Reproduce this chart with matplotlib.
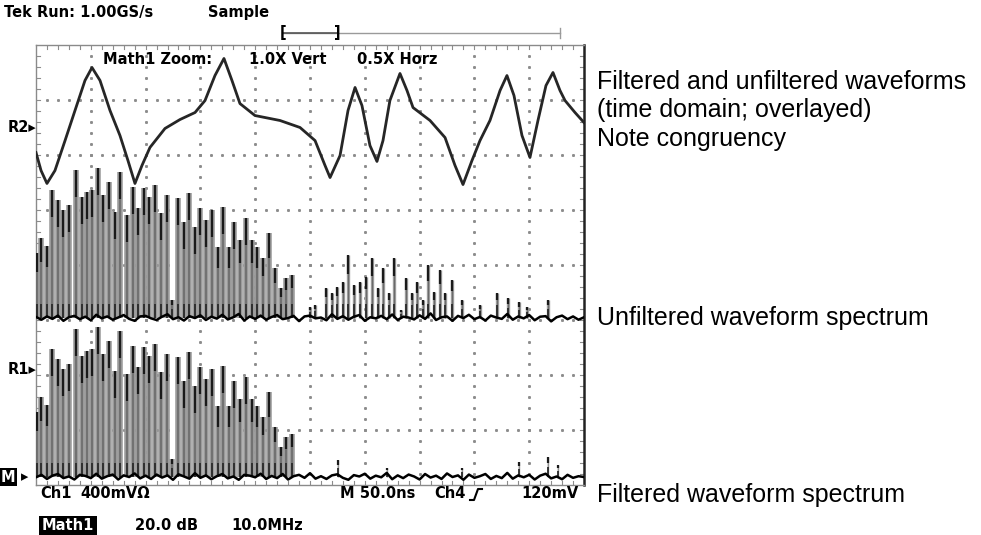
import matplotlib
matplotlib.use('Agg')
import matplotlib.pyplot as plt
import numpy as np
from matplotlib.lines import Line2D

W, H = 981, 535

# time domain trace (filtered and unfiltered overlay), ns / mV
t_ns = [0, 4.6, 10.0, 17.3, 26.5, 35.6, 44.7, 51.1, 58.4, 67.5, 76.6, 83.9, 90.3,
        96.7, 104.0, 117.7, 131.4, 145.1, 154.2, 163.3, 171.5, 178.8, 186.1, 199.8,
        222.6, 240.9, 254.6, 263.7, 268.3, 277.4, 284.7, 291.1, 297.4, 304.7, 311.1,
        316.6, 322.9, 332.1, 338.5, 344.0, 359.5, 373.2, 382.3, 389.6, 397.8, 405.1,
        414.2, 423.4, 429.7, 436.1, 443.4, 450.7, 458.0, 465.3, 471.7, 478.1, 482.7,
        491.8, 500.0]
v_mv = [-182, -313, -407, -313, -95, 124, 342, 436, 342, 124, -58, -240, -407,
        -276, -145, -7, 58, 109, 196, 378, 502, 342, 174, 87,
        51, 0, -95, -276, -364, -204, 124, 291, 160, -131, -247,
        -95, 196, 393, 269, 145, 51, -73, -276, -415, -240, -95,
        51, 269, 378, 233, -58, -218, 51, 305, 400, 269, 196,
        109, 36]

# harmonics below the filter cutoff (MHz, dB above floor) - same in both spectra
harm_mhz = [0.2, 0.9, 2.0, 2.9, 4.0, 4.9, 6.0, 7.3, 8.4, 9.3, 10.2, 11.3, 12.2,
            13.3, 14.4, 15.3, 16.6, 17.7, 18.6, 19.7, 20.6, 21.7, 22.8, 23.9,
            24.8, 25.9, 27.0, 27.9, 29.0, 29.9, 31.0, 32.1, 33.2, 34.1, 35.2,
            36.1, 37.2, 38.3, 39.4, 40.3, 41.4, 42.5, 43.6, 44.7, 45.6, 46.7]
harm_db = [23.6, 29.1, 26.2, 46.5, 42.9, 39.3, 41.1, 53.8, 44.0, 45.8, 46.5, 54.5,
           44.7, 49.5, 38.5, 53.1, 37.5, 47.6, 40.0, 47.3, 44.0, 48.4, 38.2, 44.7,
           6.5, 43.6, 34.9, 45.5, 33.1, 40.0, 35.6, 39.3, 25.8, 40.4, 25.8,
           34.9, 28.4, 36.4, 28.4, 25.8, 21.8, 30.9, 18.2, 10.9, 14.5, 15.6]

# unfiltered only: content above cutoff
hi_mhz = [50.0, 50.9, 52.9, 54.0, 54.9, 56.0, 56.9, 58.0, 59.1, 60.2, 61.3, 62.4,
          63.3, 64.4, 65.3, 66.6, 67.5, 68.6, 69.5, 70.6, 71.5, 72.6, 73.7, 74.6,
          75.9, 77.7, 81.0, 84.1, 86.1, 88.1, 89.6, 93.4]
hi_db = [4.0, 4.7, 10.9, 9.1, 11.3, 13.1, 22.9, 12.0, 13.1, 14.9, 21.8, 10.9,
         18.2, 9.1, 21.8, 2.9, 14.5, 9.1, 13.1, 6.5, 19.3, 9.5, 17.5, 9.1,
         13.8, 6.5, 4.7, 9.1, 7.3, 5.8, 4.0, 6.5]

# filtered: small residual spurs above cutoff
spur_mhz = [55.1, 64.1, 77.7, 88.1, 93.4, 95.3]
spur_db = [6.2, 3.3, 3.3, 5.5, 7.3, 4.4]

# noise floors, dB, one sample per MHz
noise_unf = [0.3, -0.7, 0.5, -0.4, 0.8, -1.1, 0.2, 0.7, -0.5, 0.4, -0.9, 1.1, -0.2,
             0.5, -0.7, 0.1, 1.0, -0.4, -1.1, 0.5, 0.7, -0.2, -0.8, 0.4, 1.3, -0.5,
             0.2, -1.0, 0.6, -0.1, 0.9, -0.8, 0.4, -0.3, 1.1, -0.6, 0.2, 1.4, -1.0,
             0.5, -0.4, 0.8, -0.7, 0.3, 1.0, -0.5, -0.1, 0.7, -1.2, 0.5, 0.8, -0.2,
             0.1, -0.9, 1.3, -0.4, 0.6, -0.7, 0.4, 1.0, -1.1, 0.2, -0.2, 0.7, -0.5,
             1.2, -0.8, 0.4, 0.1, -0.6, 0.9, -0.4, 1.6, -0.8, 0.2, 0.5, -1.1, 0.7,
             -0.1, 1.1, -0.5, 0.3, -1.0, 0.8, 0.1, -0.4, 1.4, -0.7, 0.5, -0.2, 1.0,
             -0.9, 0.4, 0.6, -1.3, 0.2, 0.8, -0.5, 0.5, -0.7, 0.2]
noise_filt = [-0.2, 0.7, -0.8, 0.4, 1.0, -0.5, 0.1, -1.0, 0.7, 0.3, -0.5, 1.1, -0.7,
              0.2, 0.8, -1.0, 0.5, -0.1, 1.2, -0.6, 0.4, -0.8, 0.8, -0.3, 0.5, -1.1,
              0.9, 0.1, -0.7, 1.3, -0.4, 0.5, -0.9, 0.2, 1.0, -0.6, 0.1, -1.1, 0.7,
              0.4, -0.2, 1.1, -0.8, 0.3, -0.5, 1.0, -1.0, 0.2, 0.7, -0.4, 1.3, -0.7,
              0.2, -0.8, 0.5, 0.9, -0.4, -1.1, 0.6, 0.1, 1.1, -0.7, 0.4, -0.2, 1.4,
              -0.9, 0.5, -0.5, 0.8, 0.1, -1.0, 1.0, -0.3, 0.4, -0.8, 1.2, -0.1, 0.5,
              -1.1, 0.8, -0.4, 0.2, 1.0, -0.8, 0.3, -0.5, 1.4, -0.7, 0.5, -0.2, 0.7,
              -1.0, 0.4, 1.1, -0.6, 0.1, -0.9, 0.7, -0.4, 0.2, -0.1]

NS_DIV = 50.0
MV_DIV = 400.0
MHZ_DIV = 10.0
DB_DIV = 20.0
R2_REF = 6.5
UNF_BASE = 3.04
FILT_BASE = 0.15


def fx(px):
    return px / W


def fy(py):
    return 1 - py / H


def spectrum(ax, base, f, db, wide=4.0):
    x = np.array(f) / MHZ_DIV
    top = base + np.array(db) / DB_DIV
    ax.vlines(x, base, top, color='#9a9a9a', lw=wide, zorder=2)
    ax.vlines(x, base, top, color='#6a6a6a', lw=wide * 0.3, zorder=3)
    tip = np.minimum((top - base) * 0.3, 0.5)
    ax.vlines(x, top - tip, top, color='#1a1a1a', lw=1.6, zorder=4)
    foot = np.minimum((top - base) * 0.5, 0.25)
    ax.vlines(x, base, base + foot, color='#2a2a2a', lw=1.3, zorder=4)


def noise(ax, base, vals):
    nx = np.linspace(0, 10, len(vals))
    ax.plot(nx, base + np.array(vals) / DB_DIV, color='black', lw=1.8, zorder=5)


fig = plt.figure(figsize=(W / 100, H / 100), dpi=100)
ax = fig.add_axes([fx(36), fy(485), 548 / W, 440 / H])
ax.set_xlim(0, 10)
ax.set_ylim(0, 8)
ax.set_xticks([])
ax.set_yticks([])
for s in ['top', 'left', 'bottom']:
    ax.spines[s].set_color('#8a8a8a')
    ax.spines[s].set_linewidth(1.0)
ax.spines['right'].set_color('#222222')
ax.spines['right'].set_linewidth(1.8)

# graticule dots
fine = np.arange(0.2, 10, 0.2)
fine_y = np.arange(0.2, 8, 0.2)
for gx in range(1, 10):
    ax.plot(np.full(len(fine_y), gx), fine_y, ls='none', marker='s', ms=1.1,
            color='#8c8c8c', zorder=1)
for gy in range(1, 8):
    ax.plot(fine, np.full(len(fine), gy), ls='none', marker='s', ms=1.1,
            color='#8c8c8c', zorder=1)
# border ticks
for v in fine:
    ax.plot([v, v], [8, 7.93], color='#8c8c8c', lw=0.8, zorder=1)
    ax.plot([v, v], [0, 0.07], color='#8c8c8c', lw=0.8, zorder=1)
for v in fine_y:
    ax.plot([0, 0.07], [v, v], color='#8c8c8c', lw=0.8, zorder=1)
    ax.plot([10, 9.93], [v, v], color='#8c8c8c', lw=0.8, zorder=1)

# spectra
spectrum(ax, FILT_BASE, harm_mhz, harm_db)
spectrum(ax, FILT_BASE, spur_mhz, spur_db, wide=1.0)
noise(ax, FILT_BASE, noise_filt)
spectrum(ax, UNF_BASE, harm_mhz, harm_db)
spectrum(ax, UNF_BASE, hi_mhz, hi_db, wide=2.4)
noise(ax, UNF_BASE, noise_unf)

# time domain
ax.plot(np.array(t_ns) / NS_DIV, R2_REF + np.array(v_mv) / MV_DIV,
        color='#262626', lw=2.0, zorder=6)

# scope annotations
sf = dict(family='DejaVu Sans', weight='bold', size=10.5, va='center', ha='left')
fig.text(fx(4), fy(13), 'Tek Run: 1.00GS/s', **sf)
fig.text(fx(208), fy(13), 'Sample', **sf)
fig.text(fx(103), fy(59), 'Math1 Zoom:', **sf)
fig.text(fx(249), fy(59), '1.0X Vert', **sf)
fig.text(fx(357), fy(59), '0.5X Horz', **sf)
fig.text(fx(8), fy(127), 'R2\u25b8', **sf)
fig.text(fx(8), fy(370), 'R1\u25b8', **sf)
fig.text(fx(1), fy(477), 'M', color='white', bbox=dict(boxstyle='square,pad=0.12',
         fc='black', ec='none'), **sf)
fig.text(fx(21), fy(477), '\u25b8', **sf)
fig.text(fx(40), fy(494), 'Ch1', **sf)
fig.text(fx(80), fy(494), '400mV\u03a9', **sf)
fig.text(fx(340), fy(494), 'M 50.0ns', **sf)
fig.text(fx(434), fy(494), 'Ch4', **sf)
fig.text(fx(521), fy(494), '120mV', **sf)
fig.text(fx(42), fy(526), 'Math1', color='white', bbox=dict(boxstyle='square,pad=0.2',
         fc='black', ec='none'), **sf)
fig.text(fx(135), fy(526), '20.0 dB', **sf)
fig.text(fx(231), fy(526), '10.0MHz', **sf)

# trigger slope icon and record bar
fig.add_artist(Line2D([fx(470), fx(474), fx(478), fx(482)],
                      [fy(500), fy(500), fy(489), fy(489)], color='black', lw=1.5))
fig.add_artist(Line2D([fx(283), fx(560)], [fy(33), fy(33)], color='#9a9a9a', lw=1.0))
fig.add_artist(Line2D([fx(283), fx(338)], [fy(33), fy(33)], color='#555555', lw=1.2))
fig.add_artist(Line2D([fx(560), fx(560)], [fy(28), fy(38)], color='#9a9a9a', lw=1.0))
fig.text(fx(280), fy(33), '[', **sf)
fig.text(fx(334), fy(33), ']', **sf)

# explanatory captions
cf = dict(family='Liberation Sans', size=18, va='center', ha='left')
fig.text(fx(597), fy(82), 'Filtered and unfiltered waveforms', **cf)
fig.text(fx(597), fy(110), '(time domain; overlayed)', **cf)
fig.text(fx(597), fy(139), 'Note congruency', **cf)
fig.text(fx(597), fy(318), 'Unfiltered waveform spectrum', **cf)
fig.text(fx(597), fy(495), 'Filtered waveform spectrum', **cf)

fig.savefig('out.png', dpi=100, facecolor='white')
